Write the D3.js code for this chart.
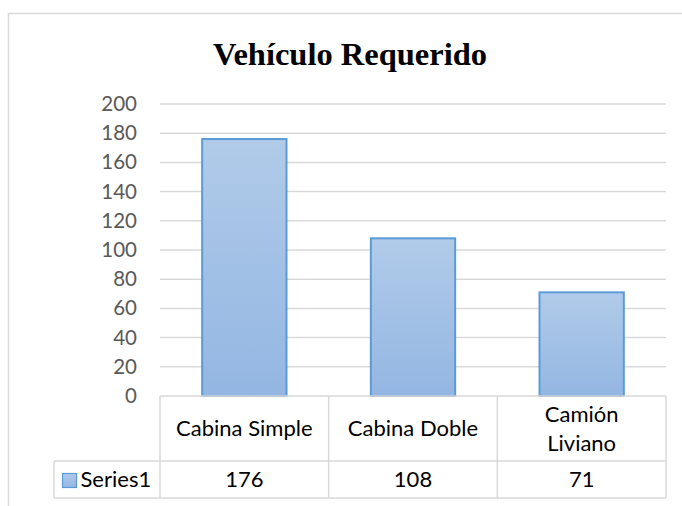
<!DOCTYPE html>
<html>
<head>
<meta charset="utf-8">
<script src="https://cdn.jsdelivr.net/npm/d3@7"></script>
<style>
  html, body { margin: 0; padding: 0; background: #fff; }
  svg { display: block; }
</style>
</head>
<body>
<svg id="chart" width="682" height="506"></svg>
<script>
// ---- data ----
const title = "Vehículo Requerido";
const categories = ["Cabina Simple", "Cabina Doble", "Camión Liviano"];
const categoryLines = [["Cabina Simple"], ["Cabina Doble"], ["Camión", "Liviano"]];
const seriesName = "Series1";
const values = [176, 108, 71];
const yTicks = [0, 20, 40, 60, 80, 100, 120, 140, 160, 180, 200];

// ---- layout ----
const W = 682, H = 506;
const plot = { left: 160, right: 666, top: 104, bottom: 396 };
const tableRow1Bottom = 461, tableRow2Bottom = 498, legendLeft = 54;
const gridColor = "#d9d9d9";
const bodyFont = "Lato, 'Open Sans', sans-serif";
const tickSize = 20.5, tableSize = 22;

const svg = d3.select("#chart");

const defs = svg.append("defs");
const grad = defs.append("linearGradient")
  .attr("id", "barGrad").attr("x1", 0).attr("y1", 0).attr("x2", 0).attr("y2", 1);
grad.append("stop").attr("offset", "0%").attr("stop-color", "#b1cbe9");
grad.append("stop").attr("offset", "100%").attr("stop-color", "#93b6e2");

// outer frame (extends past the window right and bottom)
svg.append("rect")
  .attr("x", 8.5).attr("y", 13.5).attr("width", W).attr("height", H)
  .attr("fill", "none").attr("stroke", gridColor).attr("stroke-width", 1.5);

// title
svg.append("text")
  .attr("x", 350).attr("y", 65)
  .attr("text-anchor", "middle")
  .attr("font-family", "'Liberation Serif', 'Times New Roman', serif")
  .attr("font-weight", "bold")
  .attr("font-size", 32.5)
  .attr("fill", "#000")
  .text(title);

const x = d3.scaleBand().domain(categories)
  .range([plot.left, plot.right]).paddingInner(0.5).paddingOuter(0.25);
const y = d3.scaleLinear().domain([0, 200]).range([plot.bottom, plot.top]);

// gridlines
svg.append("g").selectAll("line")
  .data(yTicks.filter(t => t > 0))
  .join("line")
  .attr("x1", plot.left).attr("x2", plot.right)
  .attr("y1", d => y(d)).attr("y2", d => y(d))
  .attr("stroke", gridColor).attr("stroke-width", 1.5);

// y axis labels via d3 axis
const yAxis = d3.axisLeft(y).tickValues(yTicks).tickSize(0).tickPadding(0);
const yg = svg.append("g").attr("transform", `translate(${plot.left - 23},0)`).call(yAxis);
yg.select(".domain").remove();
yg.selectAll("text")
  .attr("font-family", bodyFont)
  .attr("font-size", tickSize)
  .attr("fill", "#595959");

// bars
svg.append("g").selectAll("rect")
  .data(values)
  .join("rect")
  .attr("x", (d, i) => x(categories[i]))
  .attr("y", d => y(d))
  .attr("width", x.bandwidth())
  .attr("height", d => y(0) - y(d))
  .attr("fill", "url(#barGrad)")
  .attr("stroke", "#5b9bd5")
  .attr("stroke-width", 2);

// data table
const tg = svg.append("g");
const step = x.step();
const colEdges = categories.map((c, i) => plot.left + i * step);
colEdges.push(plot.right);
tg.append("line").attr("x1", plot.left).attr("x2", plot.right)
  .attr("y1", plot.bottom).attr("y2", plot.bottom)
  .attr("stroke", gridColor).attr("stroke-width", 1.5);
tg.append("line").attr("x1", legendLeft).attr("x2", plot.right)
  .attr("y1", tableRow1Bottom).attr("y2", tableRow1Bottom)
  .attr("stroke", gridColor).attr("stroke-width", 1.5);
tg.append("line").attr("x1", legendLeft).attr("x2", plot.right)
  .attr("y1", tableRow2Bottom).attr("y2", tableRow2Bottom)
  .attr("stroke", gridColor).attr("stroke-width", 1.5);
tg.append("line").attr("x1", legendLeft).attr("x2", legendLeft)
  .attr("y1", tableRow1Bottom).attr("y2", tableRow2Bottom)
  .attr("stroke", gridColor).attr("stroke-width", 1.5);
tg.selectAll("line.col").data(colEdges).join("line").attr("class", "col")
  .attr("x1", d => d).attr("x2", d => d)
  .attr("y1", plot.bottom).attr("y2", tableRow2Bottom)
  .attr("stroke", gridColor).attr("stroke-width", 1.5);

// category labels
const catMid = (plot.bottom + tableRow1Bottom) / 2;
const lineH = 29;
categories.forEach((c, i) => {
  const lines = categoryLines[i];
  const cx = x(c) + x.bandwidth() / 2;
  const t = tg.append("text")
    .attr("text-anchor", "middle")
    .attr("font-family", bodyFont)
    .attr("font-size", tableSize)
    .attr("fill", "#000");
  lines.forEach((ln, k) => {
    t.append("tspan")
      .attr("x", cx)
      .attr("y", catMid + (k - (lines.length - 1) / 2) * lineH)
      .attr("dy", "0.35em")
      .text(ln);
  });
});

// values row
const valMid = (tableRow1Bottom + tableRow2Bottom) / 2;
tg.selectAll("text.val").data(values).join("text").attr("class", "val")
  .attr("x", (d, i) => x(categories[i]) + x.bandwidth() / 2)
  .attr("y", valMid).attr("dy", "0.35em")
  .attr("text-anchor", "middle")
  .attr("font-family", bodyFont)
  .attr("font-size", tableSize)
  .attr("fill", "#000")
  .text(d => d);

// legend key + series name
tg.append("rect")
  .attr("x", 62.5).attr("y", 473.5).attr("width", 14).attr("height", 14)
  .attr("fill", "url(#barGrad)").attr("stroke", "#5b9bd5").attr("stroke-width", 1.2);
tg.append("text")
  .attr("x", 80.5).attr("y", valMid).attr("dy", "0.35em")
  .attr("font-family", bodyFont)
  .attr("font-size", tableSize)
  .attr("fill", "#000")
  .text(seriesName);
</script>
</body>
</html>
